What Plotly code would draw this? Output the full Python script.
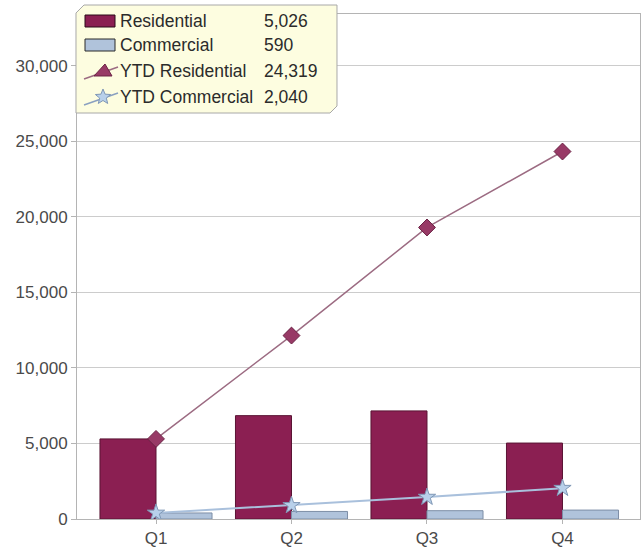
import numpy as np
import plotly.graph_objects as go

# Quarterly data
quarters = ["Q1", "Q2", "Q3", "Q4"]
residential = [5300, 6840, 7153, 5026]
commercial = [400, 500, 550, 590]
ytd_residential = [5300, 12140, 19293, 24319]
ytd_commercial = [400, 900, 1450, 2040]
y_ticks = [0, 5000, 10000, 15000, 20000, 25000, 30000]

# Styling
RES_FILL = "#8b1f52"
RES_EDGE = "#5a1434"
COM_FILL = "#b0c3db"
COM_EDGE = "#7d8ea6"
YTD_RES_LINE = "#9c6b82"
YTD_RES_MARK = "#983a66"
YTD_COM_LINE = "#a9c0dc"
YTD_COM_MARK = "#b8d0ea"
GRID = "#cccccc"
AXIS = "#b4b4b4"
FONT = "Liberation Sans, Arial, sans-serif"
TICK_COLOR = "#4a4a4a"

W, H = 642, 549
ML, MR, MT, MB = 77, 2, 14, 30
PW, PH = W - ML - MR, H - MT - MB


def px(x):
    """pixel x -> paper x"""
    return (x - ML) / PW


def py(y):
    """pixel y (from top) -> paper y"""
    return (H - MB - y) / PH


def path(points, close=True):
    s = "M " + " L ".join(f"{px(x):.5f},{py(y):.5f}" for x, y in points)
    return s + (" Z" if close else "")


fig = go.Figure()

fig.add_trace(go.Bar(
    x=quarters, y=residential, name="Residential",
    marker=dict(color=RES_FILL, line=dict(color=RES_EDGE, width=1)),
))
fig.add_trace(go.Bar(
    x=quarters, y=commercial, name="Commercial",
    marker=dict(color=COM_FILL, line=dict(color=COM_EDGE, width=1)),
))
fig.add_trace(go.Scatter(
    x=quarters, y=ytd_residential, name="YTD Residential", mode="lines+markers",
    line=dict(color=YTD_RES_LINE, width=1.5),
    marker=dict(symbol="diamond", size=13, color=YTD_RES_MARK,
                line=dict(color="#6b2244", width=1)),
))
fig.add_trace(go.Scatter(
    x=quarters, y=ytd_commercial, name="YTD Commercial", mode="lines+markers",
    line=dict(color=YTD_COM_LINE, width=2),
    marker=dict(symbol="star", size=13, color=YTD_COM_MARK,
                line=dict(color="#7f97b5", width=1)),
))

# Legend panel with chamfered corners
shapes = []
box = [(84, 5), (337, 5), (337, 106), (330, 113), (76, 113), (76, 13)]
shapes.append(dict(type="path", xref="paper", yref="paper", layer="above",
                   path=path(box), fillcolor="#fdfde0",
                   line=dict(color="#a8a8a8", width=1)))

row_y = [21, 45, 71, 97]
# bar swatches
shapes.append(dict(type="rect", xref="paper", yref="paper", layer="above",
                   x0=px(85), x1=px(115), y0=py(row_y[0] - 6), y1=py(row_y[0] + 6),
                   fillcolor=RES_FILL, line=dict(color="#2a0a18", width=1)))
shapes.append(dict(type="rect", xref="paper", yref="paper", layer="above",
                   x0=px(85), x1=px(115), y0=py(row_y[1] - 6), y1=py(row_y[1] + 6),
                   fillcolor=COM_FILL, line=dict(color="#2a2a2a", width=1)))

# line swatches
for ry, lc in ((row_y[2], YTD_RES_LINE), (row_y[3], "#8aa0c0")):
    shapes.append(dict(type="line", xref="paper", yref="paper", layer="above",
                       x0=px(84), y0=py(ry + 8), x1=px(118), y1=py(ry - 4),
                       line=dict(color=lc, width=1.5)))

# triangle marker for YTD Residential
cx, cy = 103, row_y[2]
tri = [(cx - 9, cy + 5), (cx + 9, cy + 5), (cx + 2, cy - 7)]
shapes.append(dict(type="path", xref="paper", yref="paper", layer="above",
                   path=path(tri), fillcolor=YTD_RES_MARK,
                   line=dict(color="#6b2244", width=1)))

# star marker for YTD Commercial
cx, cy = 103, row_y[3]
ang = np.pi / 2 + np.arange(10) * np.pi / 5
rad = np.where(np.arange(10) % 2 == 0, 8.0, 3.5)
star = [(cx + r * np.cos(a), cy - r * np.sin(a)) for r, a in zip(rad, ang)]
shapes.append(dict(type="path", xref="paper", yref="paper", layer="above",
                   path=path(star), fillcolor=YTD_COM_MARK,
                   line=dict(color="#7f97b5", width=1)))

# Legend text: names and latest values
names = ["Residential", "Commercial", "YTD Residential", "YTD Commercial"]
values = [residential[-1], commercial[-1], ytd_residential[-1], ytd_commercial[-1]]
annotations = []
for ry, nm, v in zip(row_y, names, values):
    annotations.append(dict(x=px(118), y=py(ry), xref="paper", yref="paper",
                            text=nm, showarrow=False, xanchor="left", yanchor="middle",
                            font=dict(family=FONT, size=17.5, color="#2b2b2b")))
    annotations.append(dict(x=px(262), y=py(ry), xref="paper", yref="paper",
                            text=f"{v:,}", showarrow=False, xanchor="left", yanchor="middle",
                            font=dict(family=FONT, size=17.5, color="#2b2b2b")))

fig.update_layout(
    width=W, height=H, autosize=False,
    margin=dict(l=ML, r=MR, t=MT, b=MB, pad=0),
    paper_bgcolor="white", plot_bgcolor="white",
    barmode="group", bargap=0.173, bargroupgap=0,
    showlegend=False,
    shapes=shapes, annotations=annotations,
    font=dict(family=FONT, size=17, color=TICK_COLOR),
)
fig.update_xaxes(
    type="category", categoryorder="array", categoryarray=quarters,
    range=[-0.583, 3.572],
    showline=True, linecolor=AXIS, linewidth=1, mirror=True,
    ticks="outside", ticklen=4, tickcolor=AXIS,
    showgrid=False, tickfont=dict(family=FONT, size=17, color=TICK_COLOR),
)
fig.update_yaxes(
    range=[0, 33420],
    tickvals=y_ticks, ticktext=[f"{v:,}" for v in y_ticks],
    showline=True, linecolor=AXIS, linewidth=1, mirror=True,
    ticks="outside", ticklen=5, tickcolor=AXIS,
    showgrid=True, gridcolor=GRID, gridwidth=1, zeroline=False,
    tickfont=dict(family=FONT, size=17, color=TICK_COLOR),
)

fig.write_html("out.html")
